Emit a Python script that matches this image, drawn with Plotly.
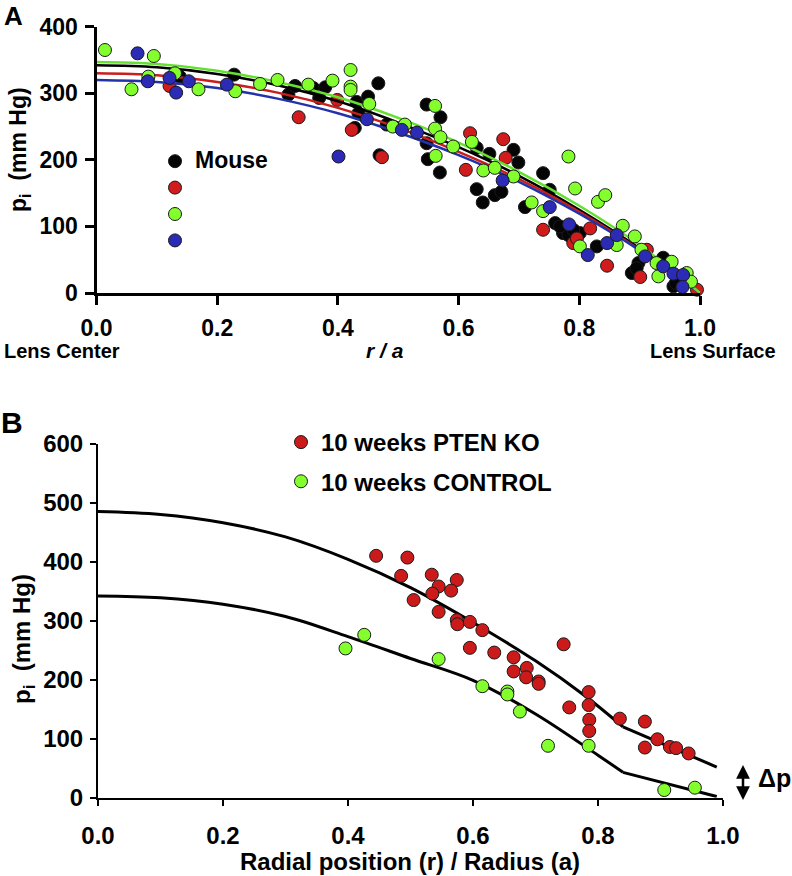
import plotly.graph_objects as go

# ---------------- Panel A data (r/a, pi mmHg) ----------------
black_x = [0.138, 0.228, 0.318, 0.329, 0.359, 0.369, 0.379, 0.431, 0.434, 0.428, 0.450, 0.467, 0.469, 0.481,
           0.547, 0.570, 0.547, 0.549, 0.569, 0.630, 0.651, 0.630, 0.640, 0.660, 0.671, 0.691, 0.699, 0.740,
           0.751, 0.710, 0.760, 0.773, 0.782, 0.801, 0.768, 0.790, 0.829, 0.887, 0.898, 0.895, 0.939, 0.956, 0.960]
black_y = [325, 328, 298, 311, 308, 293, 309, 287, 270, 248, 295, 315, 207, 253,
           283, 264, 225, 201, 181, 218, 209, 156, 136, 147, 152, 215, 196, 180,
           155, 129, 105, 90, 87, 90, 100, 95, 70, 30, 45, 37, 53, 10, 15]

red_x = [0.121, 0.335, 0.399, 0.423, 0.473, 0.619, 0.612, 0.674, 0.678, 0.740, 0.790, 0.796, 0.818,
         0.846, 0.901, 0.912, 0.995]
red_y = [311, 264, 290, 245, 204, 240, 185, 231, 203, 95, 75, 82, 97,
         41, 24, 65, 5]

green_x = [0.014, 0.058, 0.095, 0.086, 0.130, 0.169, 0.230, 0.271, 0.300, 0.351, 0.391, 0.421, 0.421, 0.421,
           0.452, 0.491, 0.511, 0.561, 0.561, 0.570, 0.562, 0.591, 0.622, 0.641, 0.660, 0.691, 0.721, 0.740,
           0.782, 0.793, 0.831, 0.843, 0.801, 0.862, 0.872, 0.892, 0.903, 0.928, 0.931, 0.953, 0.978, 0.985]
green_y = [365, 306, 356, 325, 330, 306, 303, 314, 320, 313, 319, 335, 310, 305,
           284, 250, 253, 281, 247, 234, 206, 220, 227, 184, 188, 175, 136, 123,
           205, 157, 137, 147, 70, 72, 101, 85, 65, 45, 25, 47, 30, 17]

blue_x = [0.068, 0.085, 0.121, 0.132, 0.153, 0.216, 0.401, 0.448, 0.506, 0.531, 0.673, 0.751, 0.783,
          0.814, 0.846, 0.862, 0.909, 0.939, 0.956, 0.972, 0.971]
blue_y = [360, 318, 323, 301, 318, 313, 205, 261, 245, 241, 169, 129, 103,
          57, 75, 87, 55, 40, 29, 27, 9]

# fitted curves
fit_x_a = [0.0, 0.1, 0.2, 0.3, 0.4, 0.5, 0.6, 0.7, 0.8, 0.9, 1.0]
fit_green = [347, 344, 334, 317, 294, 263, 226, 182, 131, 72, 0]
fit_black = [342, 339, 329, 312, 288, 256, 219, 176, 125, 67, 0]
fit_red = [330, 327, 317, 301, 278, 248, 212, 171, 122, 65, 0]
fit_blue = [320, 317, 308, 292, 270, 241, 207, 167, 119, 64, 0]

# ---------------- Panel B data ----------------
ko_x = [0.445, 0.495, 0.485, 0.534, 0.574, 0.545, 0.565, 0.535, 0.505, 0.545, 0.574, 0.575, 0.595, 0.615,
        0.595, 0.634, 0.665, 0.665, 0.686, 0.685, 0.705, 0.705, 0.745, 0.754, 0.785, 0.785, 0.786, 0.786,
        0.835, 0.875, 0.875, 0.895, 0.915, 0.925, 0.945]
ko_y = [410, 407, 376, 378, 369, 358, 351, 346, 335, 315, 301, 294, 298, 284,
        254, 246, 238, 214, 220, 204, 197, 193, 260, 153, 179, 157, 132, 113,
        134, 129, 85, 99, 86, 84, 75]

ctrl_x = [0.396, 0.426, 0.545, 0.615, 0.655, 0.655, 0.675, 0.720, 0.785, 0.906, 0.955]
ctrl_y = [253, 276, 235, 189, 180, 175, 146, 88, 88, 13, 17]

# model curves: smooth part up to the kink at 0.84, then straight to the surface
ko_fit_x = [0.0, 0.1, 0.2, 0.3, 0.4, 0.5, 0.6, 0.7, 0.78, 0.84, 0.99]
ko_fit_y = [485, 480, 466, 442, 404, 356, 297, 232, 172, 120, 52]
ctrl_fit_x = [0.0, 0.1, 0.2, 0.3, 0.4, 0.5, 0.6, 0.7, 0.8, 0.84, 0.99]
ctrl_fit_y = [342, 339, 328, 307, 273, 236, 199, 142, 72, 43, 2]
KINK = 9  # index of the kink point (r/a = 0.84)

x_ticks = [0.0, 0.2, 0.4, 0.6, 0.8, 1.0]
x_tick_text = ["0.0", "0.2", "0.4", "0.6", "0.8", "1.0"]
ya_ticks = [0, 100, 200, 300, 400]
yb_ticks = [0, 100, 200, 300, 400, 500, 600]

W, H = 792, 876
FONT = "Liberation Sans, Arial, sans-serif"

def px(x):
    return x / W

def py(y):
    return 1 - y / H

BLACK = "#050505"
RED = "#d01c1c"
GREEN = "#84ff2e"
BLUE = "#2b2bb5"
EDGE = dict(color="#1a1a1a", width=1)

fig = go.Figure()

def pts(x, y, color, name, xa, ya, legend, show=True, group=None):
    fig.add_trace(go.Scatter(x=x, y=y, mode="markers", name=name, xaxis=xa, yaxis=ya,
                             marker=dict(size=13, color=color, line=EDGE),
                             cliponaxis=False, showlegend=show, legend=legend,
                             legendgroup=group))

def line(x, y, color, xa, ya, width, shape="spline"):
    fig.add_trace(go.Scatter(x=x, y=y, mode="lines", xaxis=xa, yaxis=ya,
                             line=dict(color=color, width=width, shape=shape, smoothing=1),
                             showlegend=False, cliponaxis=False, hoverinfo="skip"))

# Panel A
pts(black_x, black_y, BLACK, "<span style='font-size:23px'>Mouse</span>", "x", "y", "legend")
pts(red_x, red_y, RED, " ", "x", "y", "legend")
line(fit_x_a, fit_black, "#000000", "x", "y", 2.5)
line(fit_x_a, fit_red, "#c81e1e", "x", "y", 2.5)
line(fit_x_a, fit_blue, "#2233aa", "x", "y", 2.5)
line(fit_x_a, fit_green, "#66e030", "x", "y", 2.5)
pts(green_x, green_y, GREEN, " ", "x", "y", "legend")
pts(blue_x, blue_y, BLUE, " ", "x", "y", "legend")

# Panel B
for fx, fy in [(ko_fit_x, ko_fit_y), (ctrl_fit_x, ctrl_fit_y)]:
    line(fx[:KINK + 1], fy[:KINK + 1], "#000000", "x2", "y2", 3, "spline")
    line(fx[KINK:], fy[KINK:], "#000000", "x2", "y2", 3, "linear")
pts(ko_x, ko_y, "#cc1a1a", "10 weeks PTEN KO", "x2", "y2", "legend2", group="g1")
pts(ctrl_x, ctrl_y, GREEN, "10 weeks CONTROL", "x2", "y2", "legend2", group="g2")

axis_common = dict(showgrid=False, zeroline=False, showline=True, linecolor="black",
                   ticks="outside", tickcolor="black", mirror=False, fixedrange=True,
                   automargin=False)

fig.update_layout(
    width=W, height=H,
    margin=dict(l=0, r=0, t=0, b=0, autoexpand=False),
    paper_bgcolor="white", plot_bgcolor="white",
    font=dict(family=FONT, color="black"),
    xaxis=dict(domain=[px(96.5), px(700)], range=[0, 1], anchor="y",
               tickvals=x_ticks, ticktext=x_tick_text, linewidth=3, tickwidth=3, ticklen=9,
               tickfont=dict(size=23, weight="bold"), ticklabelstandoff=3, **axis_common),
    yaxis=dict(domain=[py(293), py(26.7)], range=[0, 400], anchor="x",
               tickvals=ya_ticks, linewidth=3, tickwidth=3, ticklen=9,
               tickfont=dict(size=23, weight="bold"), ticklabelstandoff=2, **axis_common),
    xaxis2=dict(domain=[px(98), px(723)], range=[0, 1], anchor="y2",
                tickvals=x_ticks, ticktext=x_tick_text, linewidth=2, tickwidth=2, ticklen=6,
                tickfont=dict(size=24, weight="bold"), ticklabelstandoff=9, **axis_common),
    yaxis2=dict(domain=[py(797.7), py(443.7)], range=[0, 600], anchor="x2",
                tickvals=yb_ticks, linewidth=2, tickwidth=2, ticklen=6,
                tickfont=dict(size=24, weight="bold"), ticklabelstandoff=2, **axis_common),
    legend=dict(x=px(155), y=py(143), xanchor="left", yanchor="top",
                font=dict(size=18, weight="bold"), bgcolor="rgba(0,0,0,0)",
                itemwidth=30, tracegroupgap=0),
    legend2=dict(x=px(281), y=py(420), xanchor="left", yanchor="top",
                 font=dict(size=24, weight="bold"), bgcolor="rgba(0,0,0,0)",
                 itemwidth=30, tracegroupgap=5),
    showlegend=True,
)

ann = []
def text(x, y, s, size, angle=0, xanchor="center"):
    ann.append(dict(x=px(x), y=py(y), xref="paper", yref="paper", text=s, showarrow=False,
                    font=dict(size=size, family=FONT, color="black"), textangle=angle,
                    xanchor=xanchor, yanchor="middle"))

text(13, 16, "<b>A</b>", 26)
text(12, 422, "<b>B</b>", 30)
text(19, 150, "<b>p<sub>i</sub>  (mm Hg)</b>", 23, -90)
text(23, 639, "<b>p<sub>i</sub>  (mm Hg)</b>", 24, -90)
text(2, 351, "<b>Lens Center</b>", 20, xanchor="left")
text(713, 351, "<b>Lens Surface</b>", 20)
text(385, 351, "<b><i>r / a</i></b>", 21)
text(410, 861, "<b>Radial position (r) / Radius (a)</b>", 24)
text(774, 778, "<b>Δp</b>", 25)
# double-headed Δp arrow
ann.append(dict(x=px(743), y=py(765), xref="paper", yref="paper", text=" ", showarrow=True,
                font=dict(size=1), borderpad=0,
                ax=0, ay=36, arrowhead=2, arrowside="end+start", arrowsize=1.1, arrowwidth=2.5,
                arrowcolor="black"))
fig.update_layout(annotations=ann)

# the browser page has a default 8px body margin; remove it so the figure fills the window
fig.write_html("out.html", config={"displayModeBar": False},
               post_script="document.body.style.margin='0px';")
